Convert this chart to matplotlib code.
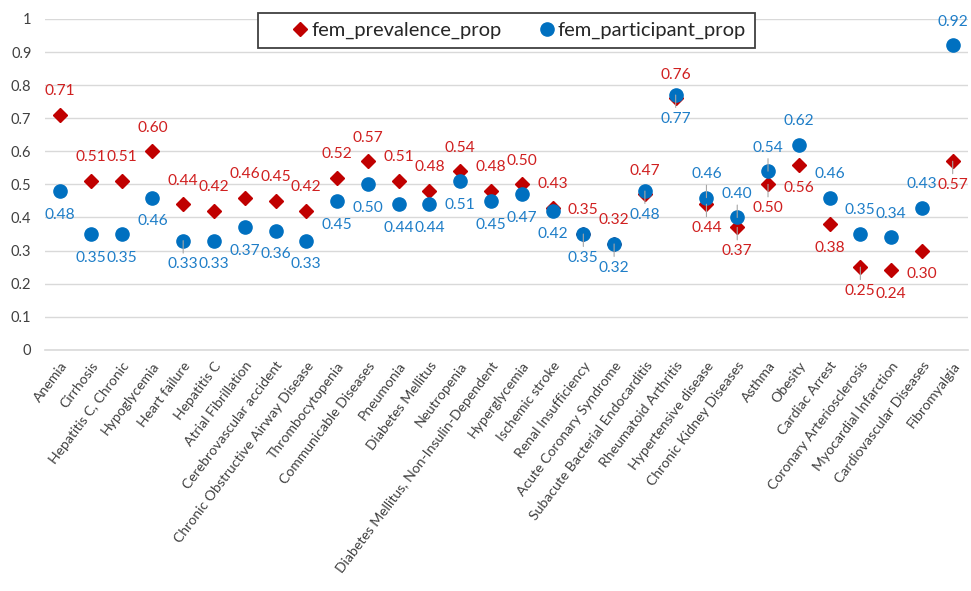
import matplotlib
matplotlib.use("Agg")
import matplotlib.pyplot as plt
from matplotlib.lines import Line2D

plt.rcParams['font.family'] = ['Lato', 'DejaVu Sans']

conditions = [
    "Anemia", "Cirrhosis", "Hepatitis C, Chronic", "Hypoglycemia", "Heart failure",
    "Hepatitis C", "Atrial Fibrillation", "Cerebrovascular accident",
    "Chronic Obstructive Airway Disease", "Thrombocytopenia", "Communicable Diseases",
    "Pneumonia", "Diabetes Mellitus", "Neutropenia",
    "Diabetes Mellitus, Non-Insulin-Dependent", "Hyperglycemia", "Ischemic stroke",
    "Renal Insufficiency", "Acute Coronary Syndrome", "Subacute Bacterial Endocarditis",
    "Rheumatoid Arthritis", "Hypertensive disease", "Chronic Kidney Diseases", "Asthma",
    "Obesity", "Cardiac Arrest", "Coronary Arteriosclerosis", "Myocardial Infarction",
    "Cardiovascular Diseases", "Fibromyalgia",
]
fem_prevalence_prop = [
    0.71, 0.51, 0.51, 0.60, 0.44, 0.42, 0.46, 0.45, 0.42, 0.52,
    0.57, 0.51, 0.48, 0.54, 0.48, 0.50, 0.43, 0.35, 0.32, 0.47,
    0.76, 0.44, 0.37, 0.50, 0.56, 0.38, 0.25, 0.24, 0.30, 0.57,
]
fem_participant_prop = [
    0.48, 0.35, 0.35, 0.46, 0.33, 0.33, 0.37, 0.36, 0.33, 0.45,
    0.50, 0.44, 0.44, 0.51, 0.45, 0.47, 0.42, 0.35, 0.32, 0.48,
    0.77, 0.46, 0.40, 0.54, 0.62, 0.46, 0.35, 0.34, 0.43, 0.92,
]
# +1: prevalence label above its marker, participant label below; -1: the reverse
label_side = [1] * 21 + [-1] * 9
# labels that get a thin leader line back to their marker
prevalence_leader = {21, 22, 23, 26, 29}
participant_leader = {4, 17, 18, 19, 20, 21, 22, 23}

yticks = [0, 0.1, 0.2, 0.3, 0.4, 0.5, 0.6, 0.7, 0.8, 0.9, 1]
ytick_labels = ["0", "0.1", "0.2", "0.3", "0.4", "0.5", "0.6", "0.7", "0.8", "0.9", "1"]

RED = "#C00000"
BLUE = "#0070C0"
RED_TXT = "#D02020"
BLUE_TXT = "#1F7EC8"
GRID = "#D9D9D9"
TXT = "#404040"
LEADER = "#A6A6A6"

fig = plt.figure(figsize=(9.71, 5.91), dpi=100)
ax = fig.add_axes([0.046, 0.408, 0.951, 0.560])

x = list(range(len(conditions)))
ax.plot(x, fem_prevalence_prop, linestyle="none", marker="D", markersize=7.2,
        color=RED, zorder=3)
ax.plot(x, fem_participant_prop, linestyle="none", marker="o", markersize=9.5,
        color=BLUE, zorder=4)


def add_label(i, value, dy, color, leader):
    kw = {}
    if leader:
        kw["arrowprops"] = dict(arrowstyle="-", color=LEADER, lw=0.8,
                                shrinkA=1, shrinkB=0)
    ax.annotate(f"{value:.2f}", (i, value), xytext=(0, dy), textcoords="offset points",
                ha="center", va="center", fontsize=11.2, color=color, zorder=5, **kw)


off = 17
for i in x:
    s = label_side[i]
    add_label(i, fem_prevalence_prop[i], s * off, RED_TXT, i in prevalence_leader)
    add_label(i, fem_participant_prop[i], -s * off, BLUE_TXT, i in participant_leader)

ax.set_xlim(-0.5, len(conditions) - 0.5)
ax.set_ylim(0, 1)
ax.set_yticks(yticks)
ax.set_yticklabels(ytick_labels, fontsize=10.5, color=TXT)
ax.set_xticks(x)
ax.set_xticklabels(conditions, rotation=53, ha="right", va="top",
                   rotation_mode="anchor", fontsize=10.1, color=TXT)
ax.tick_params(axis="both", length=0)
ax.tick_params(axis="y", pad=9.5)
ax.tick_params(axis="x", pad=7)

ax.grid(axis="y", color=GRID, linewidth=1)
ax.set_axisbelow(True)
for side in ("left", "right", "top"):
    ax.spines[side].set_visible(False)
ax.spines["bottom"].set_color(GRID)
ax.spines["bottom"].set_linewidth(1.2)

handles = [
    Line2D([], [], linestyle="none", marker="D", markersize=7.2, color=RED,
           label="fem_prevalence_prop"),
    Line2D([], [], linestyle="none", marker="o", markersize=9.5, color=BLUE,
           label="fem_participant_prop"),
]
leg = ax.legend(handles=handles, loc="upper center", bbox_to_anchor=(0.5, 1.018),
                borderaxespad=0, ncol=2, fontsize=14.5, frameon=True, fancybox=False,
                framealpha=1, edgecolor="#404040", handlelength=3.3,
                handletextpad=-1.1, columnspacing=0.6, borderpad=0.45)
leg.get_frame().set_linewidth(1.3)
for t in leg.get_texts():
    t.set_color("#262626")

fig.savefig("out.png", dpi=100)
